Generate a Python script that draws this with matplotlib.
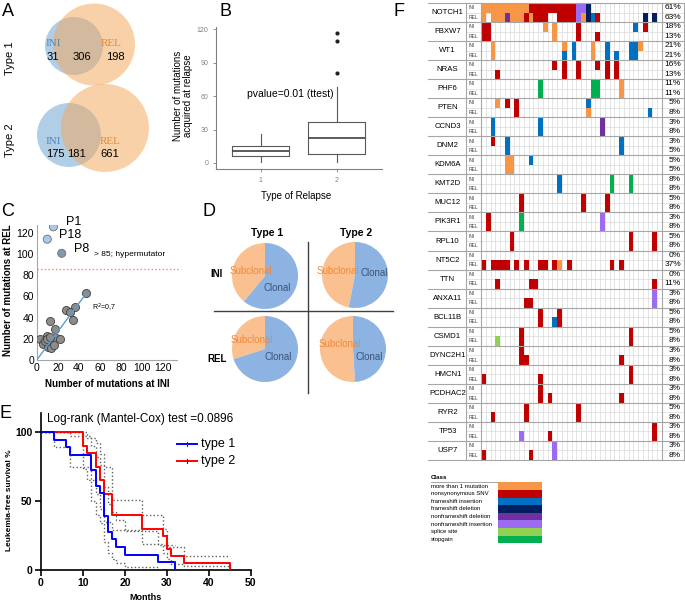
import numpy as np
import matplotlib
matplotlib.use("Agg")
import matplotlib.pyplot as plt
from matplotlib.patches import Circle, Rectangle
from matplotlib.colors import ListedColormap

plt.rcParams['font.family'] = ['Liberation Sans', 'DejaVu Sans']

W, H = 685, 603

# ---- A: venn counts
venn_types = ['Type 1', 'Type 2']
ini_only = [31, 175]
shared = [306, 181]
rel_only = [198, 661]

# ---- B: mutations acquired at relapse (box summaries)
relapse_types = [1, 2]
b_lo = [0.6, 1.2]
b_q1 = [6.3, 8.1]
b_med = [11.0, 22.7]
b_q3 = [15.2, 36.7]
b_hi = [25.7, 68.3]
b_out = [[], [80.3, 109.5, 116.7]]

# ---- C: mutations INI vs REL
c_ini = [47, 27.5, 36, 32, 34.5, 12.5, 17, 3, 9.5, 12.5, 6, 15, 18, 22.5, 11, 14, 8, 10, 13, 16]
c_rel = [63, 47.5, 50, 45, 38, 37, 29, 19.5, 22.5, 19, 15, 16, 21, 20, 12.5, 11, 18, 20, 21.5, 14]
hyper_names = ['P1', 'P18', 'P8']
hyper_ini = [15.8, 10.0, 23.7]
hyper_rel = [125.7, 114.0, 100.7]
hyper_cut = 86
trend_x = [0, 47]
trend_y = [0, 63]

# ---- D: % subclonal (type 1, type 2)
subclonal_ini = [39, 47]
subclonal_rel = [30, 51]

# ---- E: Kaplan-Meier
t1_time = [0, 3, 6, 7, 12, 13, 14, 15, 16, 17, 18, 20, 28, 32]
t1_surv = [100, 94.4, 88.9, 83.3, 72.2, 61.1, 55.6, 38.9, 27.8, 22.2, 16.7, 11.1, 5.6, 0]
t2_time = [0, 10, 11, 13, 14, 15, 17, 24, 29, 30, 31, 34, 45]
t2_surv = [100, 90, 85, 75, 65, 55, 40, 30, 25, 15, 10, 5, 0]
t1_hi_time = [0, 7, 12, 13, 14, 15, 16, 17, 18, 20, 28, 32]
t1_hi = [100, 97, 90, 82, 76, 60, 48, 42, 36, 28, 18, 18]
t1_lo_time = [0, 3, 7, 12, 13, 14, 15, 16, 17, 18, 20, 28]
t1_lo = [100, 89, 75, 50, 40, 34, 20, 12, 8, 5, 2, 0]
t2_hi_time = [0, 10, 11, 13, 14, 15, 17, 24, 29, 30, 31, 34, 45]
t2_hi = [100, 100, 96, 92, 84, 75, 51, 40, 30, 17, 17, 10, 10]
t2_lo_time = [0, 10, 11, 13, 14, 15, 17, 24, 29, 30, 31, 34, 45]
t2_lo = [100, 73, 65, 55, 44, 35, 29, 19, 12, 8, 4, 3, 0]

# ---- F: oncoprint, one char per patient (38 patients)
genes = ['NOTCH1', 'FBXW7', 'WT1', 'NRAS', 'PHF6', 'PTEN', 'CCND3', 'DNM2', 'KDM6A',
         'KMT2D', 'MUC12', 'PIK3R1', 'RPL10', 'NT5C2', 'TTN', 'ANXA11', 'BCL11B',
         'CSMD1', 'DYNC2H1', 'HMCN1', 'PCDHAC2', 'RYR2', 'TP53', 'USP7']
onco_ini = [
    "OOOOOOOOOORRRRRRRRRRLLN...............",
    "RR...........O.O....R...........B.R...",
    "..O..............O.B...O..B....BBO....",
    "...............R.R..R...R.R.R.........",
    "............G..........GG....O........",
    "...O.R.R..............B...............",
    "..B.........B............P............",
    "..R..B.......................B........",
    ".....OO...B...........................",
    "................B..........G...G......",
    "........R............R....R...........",
    ".R......G................L............",
    "......R........................R....R.",
    "......................................",
    "......................................",
    "....................................L.",
    "............R...R.....................",
    "........R......................R......",
    "........R.............................",
    "...............................R......",
    "............R.........................",
    ".........R..........R.................",
    "....................................R.",
    "...............L......................",
]
onco_rel = [
    "O.OOOPOOORORRR..RRRRLONBR.........N.N.",
    "RR.............O....R...R.............",
    "..O..............B.B...O..B.B..BB.....",
    "...R.............R..R.....R.R.........",
    "............G..........GG....O........",
    ".......R..............O............B..",
    "..B.........B............P............",
    ".....B.......................B........",
    ".....OO...............................",
    "................B..........G...G......",
    "........R............R....R...........",
    ".R......G................L............",
    "......R........................R....R.",
    "R.RRRR.R.R..RR.RO.R........R.R........",
    "...R......RR........................R.",
    ".........RR.........................L.",
    "............R..BR.....................",
    "...S....R......................R......",
    "........RR...................R........",
    "R...........R..................R......",
    "............R.R..............R........",
    "..R......R..........R.................",
    "........L.....R.....................R.",
    "R.........R....L......................",
]
pct_ini = ['61%', '18%', '21%', '16%', '11%', '5%', '3%', '3%', '5%', '8%', '5%', '3%',
           '5%', '0%', '0%', '3%', '5%', '5%', '3%', '3%', '3%', '5%', '3%', '3%']
pct_rel = ['63%', '13%', '21%', '13%', '11%', '8%', '8%', '5%', '5%', '8%', '8%', '8%',
           '8%', '37%', '11%', '8%', '8%', '8%', '8%', '8%', '8%', '8%', '8%', '8%']
class_codes = 'ORBNPLSG'
class_names = ['more than 1 mutation', 'nonsynonymous SNV', 'frameshift insertion',
               'frameshift deletion', 'nonframeshift deletion', 'nonframeshift insertion',
               'splice site', 'stopgain']
class_colors = ['#F79646', '#C00000', '#0070C0', '#002060', '#7030A0', '#9B6CF2',
                '#92D050', '#00B050']

fig = plt.figure(figsize=(W / 100, H / 100), dpi=100)


def px_axes(x0, y0, x1, y1):
    # axes from pixel box (origin top-left)
    return fig.add_axes([x0 / W, 1 - y1 / H, (x1 - x0) / W, (y1 - y0) / H])


# ================= B =================
axb = px_axes(216, 27, 382, 169)
stats = [dict(med=m, q1=a, q3=b, whislo=lo, whishi=hi, fliers=f)
         for m, a, b, lo, hi, f in zip(b_med, b_q1, b_q3, b_lo, b_hi, b_out)]
axb.bxp(stats, positions=relapse_types, widths=0.75, showcaps=False,
        boxprops=dict(color='#595959', lw=0.8),
        whiskerprops=dict(color='#595959', lw=0.8),
        medianprops=dict(color='#404040', lw=1.2),
        flierprops=dict(marker='o', markersize=2, markerfacecolor='#202020',
                        markeredgecolor='#202020'))
axb.set_xlim(0.41, 2.6)
axb.set_ylim(-5.4, 122)
axb.set_yticks([0, 30, 60, 90, 120])
axb.set_xticks(relapse_types)
axb.set_xticklabels(['1', '2'])
for s in ['top', 'right']:
    axb.spines[s].set_visible(False)
for s in ['left', 'bottom']:
    axb.spines[s].set_color('#808080')
axb.tick_params(labelsize=5, colors='#808080', length=2, width=0.6)
axb.text(1.39, 61.5, 'pvalue=0.01 (ttest)', ha='center', va='center', fontsize=7.5)

# ================= C =================
axc = px_axes(36.7, 225, 176.7, 360)
axc.scatter(c_ini, c_rel, s=34, color='#8C8C8C', edgecolor='#3F3F3F', lw=0.6, zorder=3)
axc.plot(trend_x, trend_y, color='#5B9BD5', lw=1, zorder=4)
axc.scatter(hyper_ini, hyper_rel, s=34, color=['#A9C8EA', '#A9C8EA', '#8497B0'],
            edgecolor='#6F6F6F', lw=0.6, zorder=3)
offs = [(9, 3.6), (8.4, 2.7), (8.9, 2.9)]
for n, x, y, o in zip(hyper_names, hyper_ini, hyper_rel, offs):
    axc.annotate(n, (x, y), xytext=o, textcoords='offset points', fontsize=9,
                 va='center', ha='left', annotation_clip=False)
axc.axhline(hyper_cut, xmax=1.03, color='#FF7F7F', ls=':', lw=1, clip_on=False)
axc.text(54.3, 99.7, '> 85; hypermutator', fontsize=6, va='center', ha='left')
axc.text(52, 48.8, 'R$^2$=0,7', fontsize=5, va='center', ha='left')
axc.set_xlim(0, 132.6)
axc.set_ylim(0, 127.4)
axc.set_xticks(range(0, 121, 20))
axc.set_yticks(range(0, 121, 20))
for s in ['top', 'right']:
    axc.spines[s].set_visible(False)
for s in ['left', 'bottom']:
    axc.spines[s].set_color('#A6A6A6')
axc.tick_params(labelsize=7.5, length=0, pad=2)

# ================= D =================
pie_centers = [(265, 276), (355, 275), (265, 349), (353, 349)]
pie_sub = [subclonal_ini[0], subclonal_ini[1], subclonal_rel[0], subclonal_rel[1]]
r = 33
for (cx, cy), sub in zip(pie_centers, pie_sub):
    axp = px_axes(cx - 1.25 * r, cy - 1.25 * r, cx + 1.25 * r, cy + 1.25 * r)
    axp.pie([sub, 100 - sub], colors=['#FAC08F', '#8DB3E2'], startangle=90,
            counterclock=True, radius=1, wedgeprops=dict(lw=0))
    axp.set_xlim(-1.25, 1.25)
    axp.set_ylim(-1.25, 1.25)
    axp.set_aspect('equal')
    axp.axis('off')

# ================= E =================
axe = px_axes(41, 412.7, 250.7, 570)
for tt, vv in [(t1_hi_time, t1_hi), (t1_lo_time, t1_lo), (t2_hi_time, t2_hi), (t2_lo_time, t2_lo)]:
    axe.step(tt, vv, where='post', color='#606060', ls=':', lw=1)
axe.step(t1_time, t1_surv, where='post', color='#0000FF', lw=1.4, zorder=4)
axe.step(t2_time, t2_surv, where='post', color='#FF0000', lw=1.4, zorder=3)
axe.set_xlim(0, 50)
axe.set_ylim(0, 114)
axe.set_xticks(range(0, 51, 10))
axe.set_yticks([0, 50, 100])
for s in ['top', 'right']:
    axe.spines[s].set_visible(False)
for s in ['left', 'bottom']:
    axe.spines[s].set_linewidth(1.2)
axe.tick_params(labelsize=7.5, length=4, width=1.2, pad=2)
for lab in axe.get_xticklabels() + axe.get_yticklabels():
    lab.set_fontweight('bold')

# ================= F =================
axf = px_axes(481, 3, 662, 460)
mat = np.full((2 * len(genes), 38), np.nan)
for g, (ini, rel) in enumerate(zip(onco_ini, onco_rel)):
    for k, row in enumerate((ini, rel)):
        assert len(row) == 38, genes[g]
        for c, ch in enumerate(row):
            if ch != '.':
                mat[2 * g + k, c] = class_codes.index(ch)
for c in range(39):
    axf.plot([c, c], [0, 48], color='#D9D9D9', lw=0.5, zorder=0.5)
for y in range(1, 48, 2):
    axf.plot([-3.15, 42.7], [y, y], color='#D9D9D9', lw=0.5, zorder=0.5, clip_on=False)
axf.pcolormesh(np.arange(39), np.arange(49), np.ma.masked_invalid(mat),
               cmap=ListedColormap(class_colors), vmin=-0.5, vmax=7.5, zorder=1)
for y in range(0, 49, 2):
    axf.plot([-11.1, 42.7], [y, y], color='#A6A6A6', lw=0.8, zorder=2, clip_on=False)
for x in [-3.15, 0, 38, 42.7]:
    axf.plot([x, x], [0, 48], color='#A6A6A6', lw=0.8, zorder=2, clip_on=False)
for g, name in enumerate(genes):
    axf.text(-7.0, 2 * g + 1, name, ha='center', va='center', fontsize=5.6)
    axf.text(-2.55, 2 * g + 0.5, 'INI', ha='left', va='center', fontsize=3.6, color='#404040')
    axf.text(-2.55, 2 * g + 1.5, 'REL', ha='left', va='center', fontsize=3.6, color='#404040')
    axf.text(42.0, 2 * g + 0.5, pct_ini[g], ha='right', va='center', fontsize=6)
    axf.text(42.0, 2 * g + 1.5, pct_rel[g], ha='right', va='center', fontsize=6)
axf.set_xlim(0, 38)
axf.set_ylim(48, 0)
axf.axis('off')

# ================= overlay (pixel coords) =================
ov = px_axes(0, 0, W, H)
ov.set_xlim(0, W)
ov.set_ylim(H, 0)
ov.axis('off')

for lab, (x, y) in zip('ABCDEF', [(8, 12), (226, 12), (8, 212), (209, 212), (6, 413), (399, 12)]):
    ov.text(x, y, lab, fontsize=13, ha='center', va='center')

# A venns
venn_geo = [((74, 46, 29), (94, 44.5, 41)), ((69, 135, 32), (105, 128, 44))]
venn_y = [44, 141]
for i, ((bx, by, br), (ox, oy, orr)) in enumerate(venn_geo):
    ov.add_patch(Circle((bx, by), br, color='#659FD1', alpha=0.5, lw=0))
    ov.add_patch(Circle((ox, oy), orr, color='#F5A555', alpha=0.5, lw=0))
    yy = venn_y[i]
    ov.text(53, yy, 'INI', family='Liberation Serif', color='#4F86BD', fontsize=8,
            ha='center', va='center')
    ov.text(111 if i == 0 else 110, yy, 'REL', family='Liberation Serif', color='#E3873A',
            fontsize=8, ha='center', va='center')
    nx = [(53, 82, 115), (55, 76, 110)][i]
    for x, v in zip(nx, [ini_only[i], shared[i], rel_only[i]]):
        ov.text(x, yy + 13, str(v), fontsize=8, ha='center', va='center')
    ov.text(10, [58, 140][i], venn_types[i], rotation=90, fontsize=8, ha='center', va='center')

# B labels
ov.text(183, 96, 'Number of mutations\nacquired at relapse', rotation=90, fontsize=7,
        ha='center', va='center', linespacing=1.1)
ov.text(296, 196, 'Type of Relapse', fontsize=7, ha='center', va='center')

# C labels
ov.text(8, 290, 'Number of mutations at REL', rotation=90, fontsize=7, fontweight='bold',
        ha='center', va='center')
ov.text(107, 384, 'Number of mutations at INI', fontsize=7, fontweight='bold',
        ha='center', va='center')

# D labels
ov.text(267, 233, 'Type 1', fontsize=7.5, fontweight='bold', ha='center', va='center')
ov.text(356, 233, 'Type 2', fontsize=7.5, fontweight='bold', ha='center', va='center')
ov.text(217, 274, 'INI', fontsize=7, fontweight='bold', ha='center', va='center')
ov.text(217, 359, 'REL', fontsize=7, fontweight='bold', ha='center', va='center')
ov.plot([308.3, 308.3], [242, 393], color='#404040', lw=1)
ov.plot([214, 393], [311, 311], color='#404040', lw=1)
sub_pos = [(250.7, 270.7), (338.3, 271), (251.7, 340), (340, 344)]
clo_pos = [(277.3, 288.3), (374, 273.3), (278.3, 356.7), (369.3, 356.7)]
for (sx, sy), (cx, cy) in zip(sub_pos, clo_pos):
    ov.text(sx, sy, 'Subclonal', color='#EE8A3C', fontsize=7, ha='center', va='center')
    ov.text(cx, cy, 'Clonal', color='#3B5478', fontsize=7, ha='center', va='center')

# E labels
ov.text(140, 419, 'Log-rank (Mantel-Cox) test =0.0896', fontsize=8.5, ha='center', va='center')
ov.text(10, 500, 'Leukemia-free survival %', rotation=90, fontsize=6, fontweight='bold',
        ha='center', va='center')
ov.text(146, 597, 'Months', fontsize=6.5, fontweight='bold', ha='center', va='center')
for y, col, lab in [(444, '#0000FF', 'type 1'), (461, '#FF0000', 'type 2')]:
    ov.plot([177, 197], [y, y], color=col, lw=1.4)
    ov.plot([187, 187], [y - 2, y + 2], color='#303030', lw=0.8)
    ov.text(201, y, lab, fontsize=9, ha='left', va='center')

# F legend
ov.text(431, 477.5, 'Class', fontsize=4.4, fontweight='bold', ha='left', va='center')
ov.plot([431, 498], [482, 482], color='#808080', lw=0.5)
for i, (nm, col) in enumerate(zip(class_names, class_colors)):
    ov.add_patch(Rectangle((498.3, 482.3 + 7.6 * i), 43.7, 7.6, color=col, lw=0))
    ov.text(431, 486.1 + 7.6 * i, nm, fontsize=4.3, ha='left', va='center')

fig.savefig('out.png', dpi=100)
